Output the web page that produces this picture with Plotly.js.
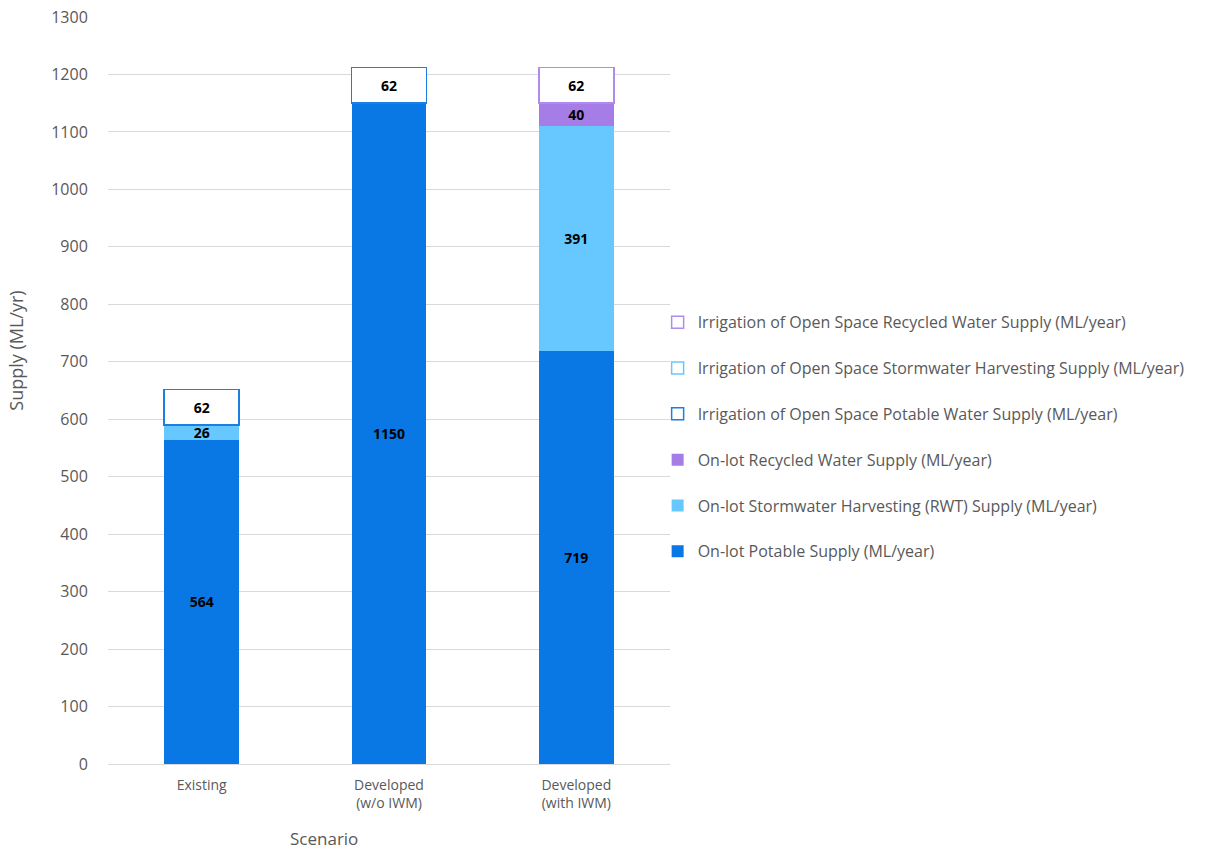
<!DOCTYPE html>
<html>
<head>
<meta charset="utf-8">
<script src="https://cdn.plot.ly/plotly-3.0.1.min.js"></script>
<style>
  html, body { margin: 0; padding: 0; background: #ffffff; }
  #chart { width: 1206px; height: 854px; }
</style>
</head>
<body>
<div id="chart"></div>
<script>
// Scenarios on the x axis
const scenarios = ['Existing', 'Developed<br>(w/o IWM)', 'Developed<br>(with IWM)'];

// Annual supply by source (ML/year); null where a source is not used
const onLotPotable      = [564, 1150, 719];
const onLotStormwater   = [26, null, 391];
const onLotRecycled     = [null, null, 40];
const irrPotable        = [62, 62, null];
const irrStormwater     = [null, null, null];
const irrRecycled       = [null, null, 62];

const seriesNames = [
  'On-lot Potable Supply (ML/year)',
  'On-lot Stormwater Harvesting (RWT) Supply (ML/year)',
  'On-lot Recycled Water Supply (ML/year)',
  'Irrigation of Open Space Potable Water Supply (ML/year)',
  'Irrigation of Open Space Stormwater Harvesting Supply (ML/year)',
  'Irrigation of Open Space Recycled Water Supply (ML/year)'
];

const FONT = '"Open Sans", "Noto Sans", sans-serif';
const GREY = '#595959';

function labels(vals) {
  return vals.map(v => (v === null ? '' : String(v)));
}

// rank: last-stacked series is listed first in the legend
function solidBar(vals, name, color, group, rank) {
  return {
    type: 'bar', x: scenarios, y: vals, name: name,
    legendgroup: group, legendrank: rank,
    marker: { color: color, line: { width: 0 } },
    text: labels(vals), textposition: 'inside', insidetextanchor: 'middle',
    textangle: 0,
    textfont: { family: FONT, size: 14, color: '#000000', weight: 'bold' },
    hoverinfo: 'name+y'
  };
}

function hollowBar(vals, name, color, group, rank) {
  return {
    type: 'bar', x: scenarios, y: vals, name: name,
    legendgroup: group, legendrank: rank,
    marker: { color: '#ffffff', line: { width: 1.5, color: color } },
    text: labels(vals), textposition: 'inside', insidetextanchor: 'middle',
    textangle: 0,
    textfont: { family: FONT, size: 14, color: '#000000', weight: 'bold' },
    hoverinfo: 'name+y'
  };
}

const data = [
  solidBar(onLotPotable,    seriesNames[0], '#0A78E4', 'g1', 6),
  solidBar(onLotStormwater, seriesNames[1], '#66C8FF', 'g2', 5),
  solidBar(onLotRecycled,   seriesNames[2], '#A67CE6', 'g3', 4),
  hollowBar(irrPotable,     seriesNames[3], '#1A7FE0', 'g4', 3),
  hollowBar(irrStormwater,  seriesNames[4], '#66C8FF', 'g5', 2),
  hollowBar(irrRecycled,    seriesNames[5], '#B08AF0', 'g6', 1)
];

const layout = {
  width: 1206, height: 854,
  paper_bgcolor: '#ffffff', plot_bgcolor: '#ffffff',
  margin: { l: 108, r: 536, t: 17, b: 90 },
  barmode: 'stack',
  bargap: 0.6,
  uniformtext: { mode: 'show', minsize: 14 },
  font: { family: FONT, color: GREY },
  showlegend: true,
  legend: {
    x: 0.978, xanchor: 'left', y: 0.614, yanchor: 'top',
    traceorder: 'grouped', tracegroupgap: 22,
    font: { family: FONT, size: 16, color: GREY },
    itemwidth: 30, bgcolor: 'rgba(0,0,0,0)'
  },
  xaxis: {
    type: 'category',
    showgrid: false, zeroline: false,
    showline: true, linecolor: '#d9d9d9', linewidth: 1,
    ticks: 'outside', ticklen: 8, tickcolor: 'rgba(0,0,0,0)',
    tickfont: { family: FONT, size: 14, color: GREY },
    fixedrange: true
  },
  yaxis: {
    range: [0, 1300], dtick: 100, tick0: 0,
    showgrid: true, gridcolor: '#d9d9d9', gridwidth: 1,
    zeroline: false, showline: false,
    ticks: 'outside', ticklen: 16, tickcolor: 'rgba(0,0,0,0)',
    tickfont: { family: FONT, size: 16, color: GREY },
    fixedrange: true
  },
  annotations: [
    {
      text: 'Supply (ML/yr)', xref: 'paper', yref: 'paper',
      x: -0.164, y: 0.553, xanchor: 'center', yanchor: 'middle',
      textangle: -90, showarrow: false,
      font: { family: FONT, size: 18, color: GREY }
    },
    {
      text: 'Scenario', xref: 'paper', yref: 'paper',
      x: 0.384, y: -0.1, xanchor: 'center', yanchor: 'middle',
      showarrow: false,
      font: { family: FONT, size: 17, color: GREY }
    }
  ]
};

Plotly.newPlot('chart', data, layout, { displayModeBar: false, staticPlot: true });
</script>
</body>
</html>
